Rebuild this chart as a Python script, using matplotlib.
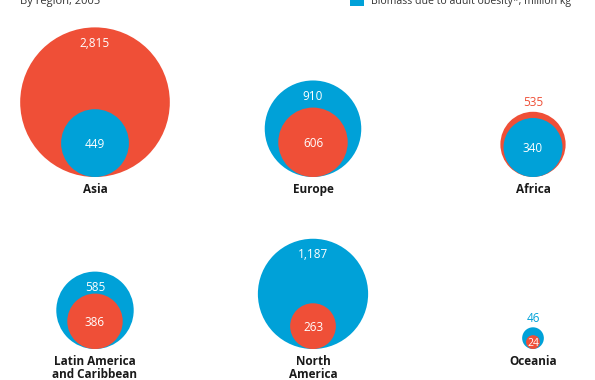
import matplotlib.pyplot as plt
from matplotlib.patches import Circle, Rectangle
import numpy as np

# data
regions = ["Asia", "Europe", "Africa", "Latin America\nand Caribbean", "North\nAmerica", "Oceania"]
obesity = [449, 910, 340, 585, 1187, 46]      # blue
overweight = [2815, 606, 535, 386, 263, 24]  # red

RED = "#EF4F37"
BLUE = "#00A1D8"
TXT = "#1a1a1a"
K_RED = 1.41
K_BLUE = 1.60

plt.rcParams['font.family'] = ['Open Sans', 'DejaVu Sans']

fig = plt.figure(figsize=(5.95, 3.8), dpi=100)
ax = fig.add_axes([0, 0, 1, 1])
ax.set_xlim(0, 595)
ax.set_ylim(380, 0)
ax.set_aspect('equal')
ax.axis('off')

col_x = [95, 313, 533]
row_bottom = [177, 349]
label_top = [183, 355]

for i, name in enumerate(regions):
    cx = col_x[i % 3]
    bottom = row_bottom[i // 3]
    r_red = K_RED * np.sqrt(overweight[i])
    r_blue = K_BLUE * np.sqrt(obesity[i])
    circles = [(r_red, RED, overweight[i]), (r_blue, BLUE, obesity[i])]
    circles.sort(key=lambda c: -c[0])
    (R, c_out, v_out), (r, c_in, v_in) = circles
    ax.add_patch(Circle((cx, bottom - R), R, color=c_out, lw=0))
    ax.add_patch(Circle((cx, bottom - r), r, color=c_in, lw=0))
    # outer value
    if 2 * (R - r) > 15:
        ax.text(cx, bottom - 2 * R + 16, f"{v_out:,}", color="white", fontsize=8.5,
                ha='center', va='center')
    else:
        ax.text(cx, bottom - 2 * R - 9, f"{v_out:,}", color=c_out, fontsize=8.5,
                ha='center', va='center')
    # inner value
    ax.text(cx, bottom - r + 1, f"{v_in:,}", color="white", fontsize=8.5 if r > 10 else 7.5,
            ha='center', va='center')
    # region name
    ax.text(cx, label_top[i // 3], name, color=TXT, fontsize=8.5, fontweight='bold',
            ha='center', va='top', linespacing=1.0)

# header bits (cut off at top)
ax.text(20, 4, "By region, 2005", color="#333333", fontsize=8, va='baseline')
ax.add_patch(Rectangle((350, -6), 14, 12, color=BLUE, lw=0))
ax.text(371, 4, "Biomass due to adult obesity*, million kg", color="#333333",
        fontsize=7.6, va='baseline')

fig.savefig("out.png", dpi=100)
